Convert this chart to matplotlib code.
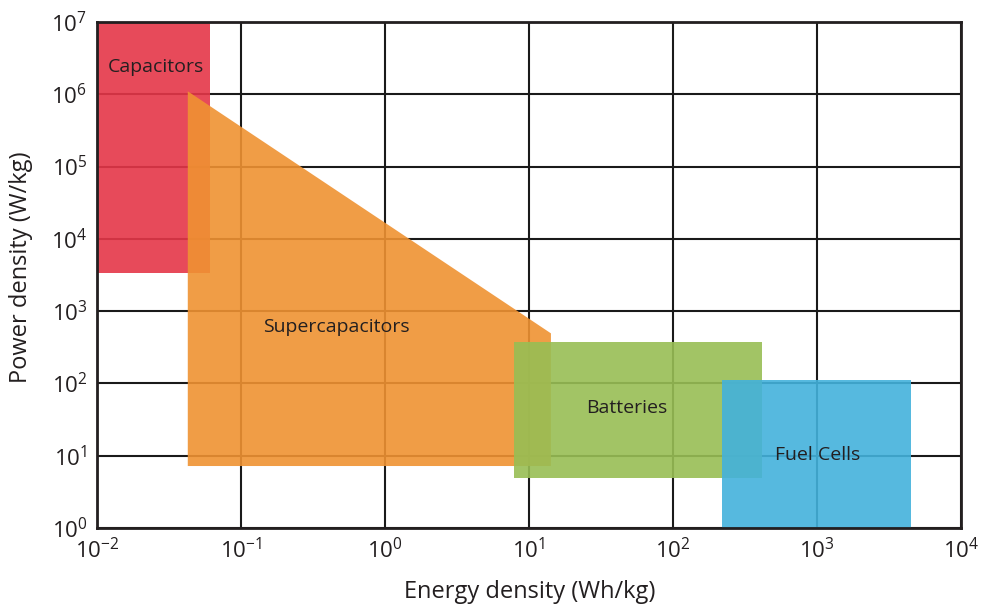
import matplotlib
matplotlib.use("Agg")
import matplotlib.pyplot as plt
from matplotlib.patches import Polygon
from matplotlib.ticker import FixedLocator, LogFormatterMathtext, NullLocator

plt.rcParams['font.family'] = ['Open Sans', 'DejaVu Sans']
plt.rcParams['mathtext.fontset'] = 'custom'
plt.rcParams['mathtext.rm'] = 'Open Sans'

TEXT = '#231f20'

# Decade ticks on both log axes
x_ticks = [1e-2, 1e-1, 1e0, 1e1, 1e2, 1e3, 1e4]
y_ticks = [1e0, 1e1, 1e2, 1e3, 1e4, 1e5, 1e6, 1e7]

# Region outlines in (energy density Wh/kg, power density W/kg)
capacitors_x = [0.01, 0.061, 0.061, 0.01]
capacitors_y = [1e7, 1e7, 3330, 3330]

supercaps_x = [0.0427, 14.2, 14.2, 0.0427]
supercaps_y = [1.1e6, 493, 7.2, 7.2]

batteries_x = [7.87, 415, 415, 7.87]
batteries_y = [370, 370, 4.87, 4.87]

fuelcells_x = [218, 4500, 4500, 218]
fuelcells_y = [110, 110, 1.0, 1.0]

labels = ['Capacitors', 'Supercapacitors', 'Batteries', 'Fuel Cells']
label_x = [0.0257, 0.457, 48, 1016]
label_y = [2.4e6, 600, 45.6, 10.2]

colors = ['#e53648', '#ef9232', '#98be54', '#43b2dc']

regions = [
    (capacitors_x, capacitors_y),
    (supercaps_x, supercaps_y),
    (batteries_x, batteries_y),
    (fuelcells_x, fuelcells_y),
]

fig = plt.figure(figsize=(9.81, 6.07), dpi=100)
ax = fig.add_axes([97 / 981, 1 - 528 / 607, (961 - 97) / 981, (528 - 22) / 607])

ax.set_xscale('log')
ax.set_yscale('log')
ax.set_xlim(x_ticks[0], x_ticks[-1])
ax.set_ylim(y_ticks[0], y_ticks[-1])

ax.xaxis.set_major_locator(FixedLocator(x_ticks))
ax.yaxis.set_major_locator(FixedLocator(y_ticks))
ax.xaxis.set_minor_locator(NullLocator())
ax.yaxis.set_minor_locator(NullLocator())
ax.xaxis.set_major_formatter(LogFormatterMathtext())
ax.yaxis.set_major_formatter(LogFormatterMathtext())

ax.set_axisbelow(True)
ax.grid(True, which='major', color='#1a1a1a', linewidth=1.5)
for sp in ax.spines.values():
    sp.set_color('#231f20')
    sp.set_linewidth(2)

ax.tick_params(length=0, labelsize=16, colors=TEXT, pad=7)

for (xs, ys), c in zip(regions, colors):
    ax.add_patch(Polygon(list(zip(xs, ys)), closed=True, facecolor=c,
                         edgecolor='none', alpha=0.9, zorder=2))

for t, x, y in zip(labels, label_x, label_y):
    ax.text(x, y, t, ha='center', va='center', fontsize=14, color=TEXT, zorder=5)

fig.text(530 / 981, 1 - 592 / 607, 'Energy density (Wh/kg)', ha='center', va='center',
         fontsize=17, color=TEXT)
fig.text(21 / 981, 1 - 267 / 607, 'Power density (W/kg)', ha='center', va='center',
         rotation=90, fontsize=17, color=TEXT)

fig.savefig('out.png', dpi=100)
